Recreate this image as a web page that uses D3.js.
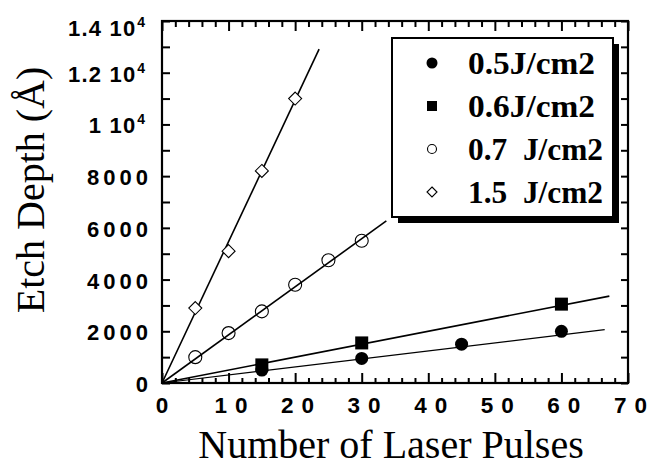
<!DOCTYPE html>
<html>
<head>
<meta charset="utf-8">
<script src="https://cdn.jsdelivr.net/npm/d3@7"></script>
<style>
  html, body { margin: 0; padding: 0; background: #fff; }
  svg { display: block; }
  .tick-label { font-family: "Liberation Sans", Arial, sans-serif; font-weight: bold; fill: #000; }
  .title { font-family: "Liberation Serif", "Times New Roman", serif; fill: #000; }
  .legend-text { font-family: "Liberation Serif", "Times New Roman", serif; font-weight: bold; fill: #000; }
</style>
</head>
<body>
<svg id="chart" width="649" height="475"></svg>
<script>
// Etch depth vs. number of laser pulses for four fluences
const seriesNames = ["0.5J/cm2", "0.6J/cm2", "0.7  J/cm2", "1.5  J/cm2"];
const seriesSymbols = ["filledCircle", "filledSquare", "openCircle", "openDiamond"];

const pulses05 = [15, 30, 45, 60];
const depth05  = [500, 950, 1500, 2000];

const pulses06 = [15, 30, 60];
const depth06  = [700, 1550, 3050];

const pulses07 = [5, 10, 15, 20, 25, 30];
const depth07  = [1000, 1930, 2770, 3800, 4750, 5500];

const pulses15 = [5, 10, 15, 20];
const depth15  = [2900, 5100, 8200, 11000];

// linear fits through the origin: slope (Å per pulse) and last pulse count drawn
const fitSlopes = [31, 50, 186, 547];
const fitEnds   = [66.5, 67.2, 33.7, 23.6];

const xTickValues = [0, 10, 20, 30, 40, 50, 60, 70];
const xTickLabels = ["0", "10", "20", "30", "40", "50", "60", "70"];
const yTickValues = [0, 2000, 4000, 6000, 8000, 10000, 12000, 14000];
const yTickLabels = ["0", "2000", "4000", "6000", "8000", "1 10^4", "1.2 10^4", "1.4 10^4"];

const xTitle = "Number of Laser Pulses";
const yTitle = "Etch Depth (Å)";

const svg = d3.select("#chart");
const plotL = 162, plotR = 628, plotT = 21, plotB = 383;

const x = d3.scaleLinear().domain([0, 70]).range([plotL, plotR]);
const y = d3.scaleLinear().domain([0, 14000]).range([plotB, plotT]);

const series = [
  { px: pulses05, py: depth05 },
  { px: pulses06, py: depth06 },
  { px: pulses07, py: depth07 },
  { px: pulses15, py: depth15 }
];

// ---- axes (ticks point inward on all four sides) ----
const axisG = svg.append("g");
const xMinor = d3.range(0, 70.001, 2).filter(v => v % 10 !== 0);
const yMinor = d3.range(0, 14000.001, 1000).filter(v => v % 2000 !== 0);

axisG.append("g").attr("transform", `translate(0,${plotB})`)
  .call(d3.axisBottom(x).tickValues(xTickValues).tickSizeInner(-10).tickSizeOuter(0).tickFormat(""))
  .call(g => g.select(".domain").remove());
axisG.append("g").attr("transform", `translate(0,${plotB})`)
  .call(d3.axisBottom(x).tickValues(xMinor).tickSizeInner(-5).tickSizeOuter(0).tickFormat(""))
  .call(g => g.select(".domain").remove());
axisG.append("g").attr("transform", `translate(0,${plotT})`)
  .call(d3.axisTop(x).tickValues(xTickValues).tickSizeInner(-10).tickSizeOuter(0).tickFormat(""))
  .call(g => g.select(".domain").remove());
axisG.append("g").attr("transform", `translate(0,${plotT})`)
  .call(d3.axisTop(x).tickValues(xMinor).tickSizeInner(-6).tickSizeOuter(0).tickFormat(""))
  .call(g => g.select(".domain").remove());
axisG.append("g").attr("transform", `translate(${plotL},0)`)
  .call(d3.axisLeft(y).tickValues(yTickValues.concat(yMinor)).tickSizeInner(-8).tickSizeOuter(0).tickFormat(""))
  .call(g => g.select(".domain").remove());
axisG.append("g").attr("transform", `translate(${plotR},0)`)
  .call(d3.axisRight(y).tickValues(yTickValues.concat(yMinor)).tickSizeInner(-7).tickSizeOuter(0).tickFormat(""))
  .call(g => g.select(".domain").remove());
axisG.selectAll(".tick line").attr("stroke", "#000").attr("stroke-width", 2);

// frame
svg.append("rect")
  .attr("x", plotL).attr("y", plotT)
  .attr("width", plotR - plotL).attr("height", plotB - plotT)
  .attr("fill", "none").attr("stroke", "#000").attr("stroke-width", 2.2);

// x tick labels: digits spread apart, gap set between glyphs only
const xLab = svg.append("g").selectAll("text").data(xTickValues).join("text")
  .attr("class", "tick-label")
  .attr("x", (d, i) => x(d) + (xTickLabels[i].length > 1 ? 2.4 : 0))
  .attr("y", plotB + 30)
  .attr("text-anchor", "middle")
  .attr("font-size", 22.5);
xLab.each(function (d, i) {
  const t = d3.select(this);
  xTickLabels[i].split("").forEach((ch, k) => {
    t.append("tspan").attr("dx", k > 0 ? 8 : 0).text(ch);
  });
});

// y tick labels, with power-of-ten superscripts
const yLab = svg.append("g").selectAll("text").data(yTickValues).join("text")
  .attr("class", "tick-label")
  .attr("y", d => Math.max(y(d) + 9, 36))
  .attr("text-anchor", "end")
  .attr("font-size", 22);
yLab.each(function (d, i) {
  const t = d3.select(this);
  const parts = yTickLabels[i].split("^");
  if (parts.length > 1) {
    t.attr("x", 145);
    parts[0].split("").forEach((ch, k) => {
      t.append("tspan").attr("dx", k > 0 ? 1.2 : 0).text(ch);
    });
    t.append("tspan").attr("font-size", 14).attr("dy", -9).attr("dx", 2).text(parts[1]);
  } else {
    t.attr("x", 148);
    parts[0].split("").forEach((ch, k) => {
      t.append("tspan").attr("dx", k > 0 ? 4 : 0).text(ch);
    });
  }
});

// axis titles
svg.append("text").attr("class", "title")
  .attr("x", 391).attr("y", 458)
  .attr("text-anchor", "middle").attr("font-size", 40)
  .text(xTitle);
svg.append("text").attr("class", "title")
  .attr("transform", "translate(44,190) rotate(-90)")
  .attr("text-anchor", "middle").attr("font-size", 40)
  .text(yTitle);

// ---- fit lines ----
const lineWidths = [1.2, 1.6, 1.6, 1.6];
const line = d3.line().x(d => x(d[0])).y(d => y(d[1]));
svg.append("g").selectAll("path").data(fitSlopes).join("path")
  .attr("d", (s, i) => line([[0, 0], [fitEnds[i], s * fitEnds[i]]]))
  .attr("fill", "none").attr("stroke", "#000")
  .attr("stroke-width", (s, i) => lineWidths[i]);

// ---- markers ----
function drawSymbol(g, kind, cx, cy, size) {
  if (kind === "filledCircle") {
    g.append("circle").attr("cx", cx).attr("cy", cy).attr("r", size / 2).attr("fill", "#000");
  } else if (kind === "filledSquare") {
    g.append("rect").attr("x", cx - size / 2).attr("y", cy - size / 2)
      .attr("width", size).attr("height", size).attr("fill", "#000");
  } else if (kind === "openCircle") {
    g.append("circle").attr("cx", cx).attr("cy", cy).attr("r", size / 2)
      .attr("fill", "none").attr("stroke", "#000").attr("stroke-width", 1.1);
  } else {
    const h = size / 2;
    g.append("path").attr("d", `M${cx},${cy - h}L${cx + h},${cy}L${cx},${cy + h}L${cx - h},${cy}Z`)
      .attr("fill", "#fff").attr("stroke", "#000").attr("stroke-width", 1.1);
  }
}
const markerSizes = [13, 13, 13, 13];
const markG = svg.append("g");
series.forEach((s, i) => {
  s.px.forEach((p, j) => drawSymbol(markG, seriesSymbols[i], x(p), y(s.py[j]), markerSizes[i]));
});

// ---- legend with drop shadow ----
const lg = svg.append("g");
const lx = 392, ly = 38, lw = 221, lh = 179;
lg.append("rect").attr("x", lx + 6).attr("y", ly + 6).attr("width", lw).attr("height", lh).attr("fill", "#000");
lg.append("rect").attr("x", lx).attr("y", ly).attr("width", lw).attr("height", lh)
  .attr("fill", "#fff").attr("stroke", "#000").attr("stroke-width", 2);
const legendRowY = d3.scalePoint().domain(d3.range(seriesNames.length)).range([63, 192]);
const legendSizes = [11, 10, 9, 10];
seriesNames.forEach((name, i) => {
  const cy = legendRowY(i);
  drawSymbol(lg, seriesSymbols[i], 432, cy, legendSizes[i]);
  lg.append("text").attr("class", "legend-text")
    .attr("x", 468).attr("y", cy + 11)
    .attr("font-size", 32)
    .attr("textLength", name.includes("  ") ? 135 : 127)
    .attr("lengthAdjust", "spacingAndGlyphs")
    .attr("xml:space", "preserve")
    .style("white-space", "pre")
    .text(name);
});
</script>
</body>
</html>
